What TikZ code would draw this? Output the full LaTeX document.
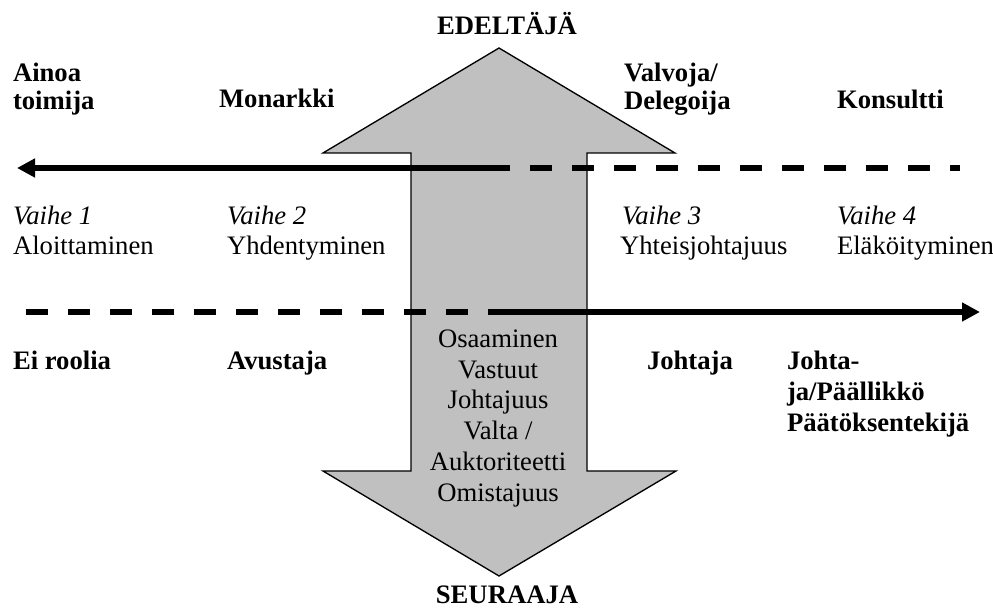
\documentclass[tikz,border=0pt]{standalone}
\usepackage{fontspec}
\setmainfont{Liberation Serif}
\usetikzlibrary{arrows.meta}
\definecolor{transfergray}{RGB}{192,192,192}
\begin{document}
\begin{tikzpicture}[x=0.75pt,y=-0.75pt,
  txt/.style={inner sep=0pt, outer sep=0pt, anchor=base west,
    font=\fontsize{20}{23}\selectfont},
  role/.style={txt, font=\fontsize{20}{23}\selectfont\bfseries},
  phase/.style={txt, font=\fontsize{20}{23}\selectfont\itshape},
  centred/.style={anchor=base},
  axisline/.style={line width=4.8pt, black},
  solidaxis/.style={axisline, -{Triangle[length=13.5pt,width=13.5pt]}},
  dashedaxis/.style={axisline, dash pattern=on 16.5pt off 15pt},
  transfer/.style={draw=black, line width=1pt, fill=transfergray, line join=miter},
]
\useasboundingbox (0,0) rectangle (993,609);

% vertical double arrow: predecessor -> successor
\draw[transfer] (499,48) -- (675,153) -- (587,153) -- (587,471) -- (676,471)
  -- (499,576) -- (323,471) -- (411,471) -- (411,153) -- (323,153) -- cycle;

% axis end points
\coordinate (topmid)   at (510,168);
\coordinate (topdash)  at (488,168);
\coordinate (topleft)  at (17,168);
\coordinate (topright) at (960,168);
\coordinate (botmid)   at (510,312);
\coordinate (botleft)  at (15,312);
\coordinate (botright) at (980,312);

% upper axis: role of the predecessor
\draw[solidaxis] (topmid) -- (topleft);
\draw[dashedaxis] (topdash) -- (topright);
% lower axis: role of the successor
\draw[dashedaxis] (botmid) -- (botleft);
\draw[solidaxis] (botmid) -- (botright);

% end labels of the vertical arrow
\node[role, centred] (pred) at (507,35) {EDELTÄJÄ};
\node[role, centred] (succ) at (507,604) {SEURAAJA};

% predecessor roles
\node[role] (r1a) at (13,82)  {Ainoa};
\node[role] (r1b) at (13,110) {toimija};
\node[role] (r2)  at (219,108) {Monarkki};
\node[role] (r3a) at (624,82)  {Valvoja/};
\node[role] (r3b) at (624,110) {Delegoija};
\node[role] (r4)  at (837,109) {Konsultti};

% phases
\node[phase] (p1) at (13,225)  {Vaihe 1};
\node[txt]   (n1) at (13,255)  {Aloittaminen};
\node[phase] (p2) at (227,225) {Vaihe 2};
\node[txt]   (n2) at (227,255) {Yhdentyminen};
\node[phase] (p3) at (622,225) {Vaihe 3};
\node[txt]   (n3) at (620,255) {Yhteisjohtajuus};
\node[phase] (p4) at (837,225) {Vaihe 4};
\node[txt]   (n4) at (837,255) {Eläköityminen};

% successor roles
\node[role] (s1)  at (13,370)  {Ei roolia};
\node[role] (s2)  at (227,370) {Avustaja};
\node[role] (s3)  at (647,370) {Johtaja};
\node[role] (s4a) at (787,370) {Johta-};
\node[role] (s4b) at (787,401) {ja/Päällikkö};
\node[role] (s4c) at (787,432) {Päätöksentekijä};

% what is handed over
\node[txt, centred] (t1) at (498,348) {Osaaminen};
\node[txt, centred] (t2) at (498,379) {Vastuut};
\node[txt, centred] (t3) at (498,409) {Johtajuus};
\node[txt, centred] (t4) at (498,440) {Valta /};
\node[txt, centred] (t5) at (498,471) {Auktoriteetti};
\node[txt, centred] (t6) at (498,502) {Omistajuus};
\end{tikzpicture}
\end{document}
